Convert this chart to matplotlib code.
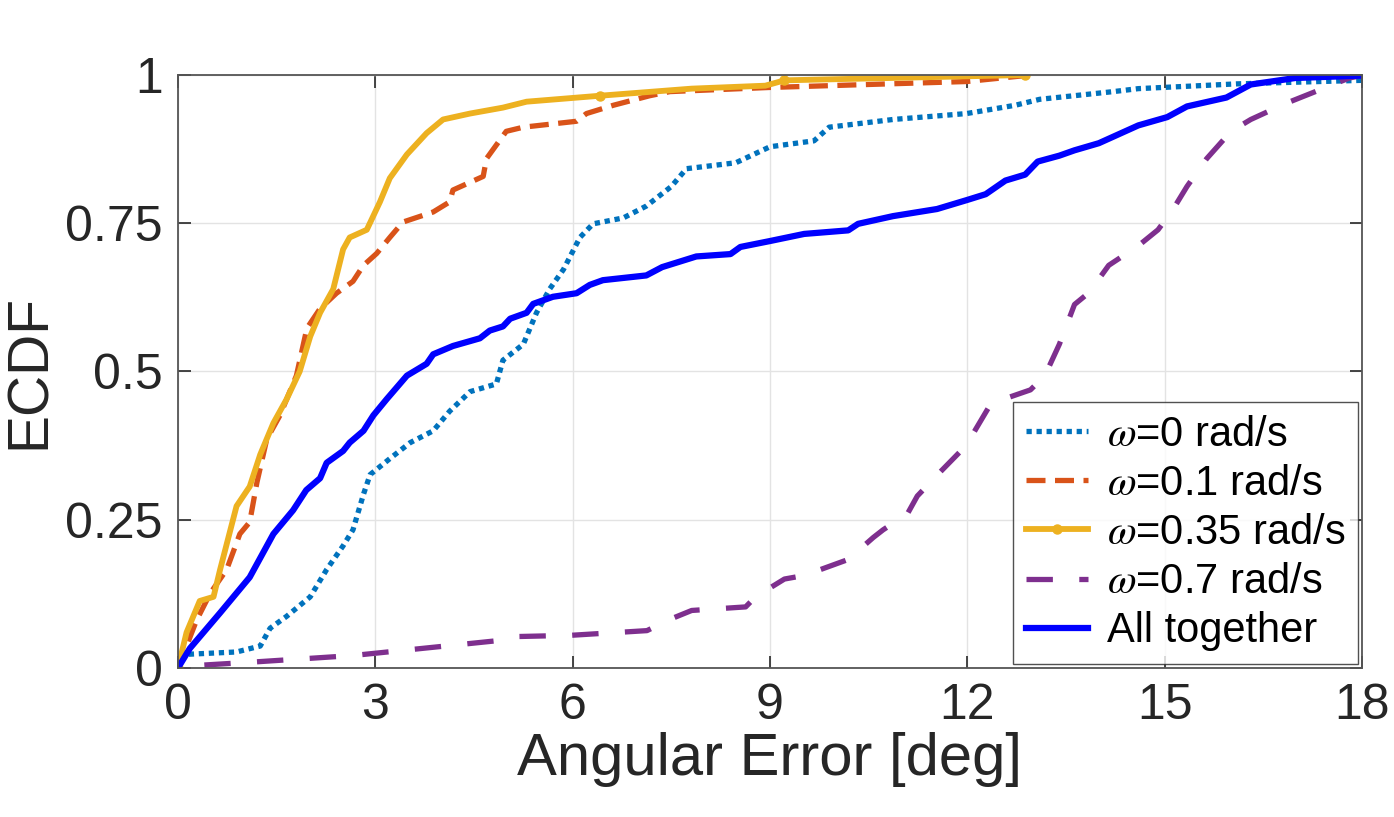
import matplotlib
matplotlib.use('Agg')
import matplotlib.pyplot as plt

plt.rcParams['font.family'] = ['Liberation Sans', 'DejaVu Sans']
plt.rcParams['mathtext.fontset'] = 'stix'

# ECDF curves (x in deg, y in [0, 1])
x_w0 = [0, 0.05, 0.13, 0.89, 1.25, 1.4, 1.65, 2.01, 2.26, 2.51, 2.66, 2.82, 2.92, 3.22, 3.53,
        3.88, 4.13, 4.44, 4.84, 4.94, 5.25, 5.45, 5.65, 5.86, 6.11, 6.31, 6.77, 7.12, 7.5, 7.73,
        8.48, 9.0, 9.67, 9.9, 10.87, 11.99, 12.73, 13.1, 14.22, 14.6, 16.09, 18.0]
y_w0 = [0, 0.02, 0.023, 0.027, 0.037, 0.067, 0.087, 0.12, 0.166, 0.206, 0.233, 0.293, 0.326,
        0.353, 0.38, 0.40, 0.433, 0.466, 0.479, 0.519, 0.546, 0.599, 0.639, 0.672, 0.726, 0.749,
        0.759, 0.779, 0.812, 0.842, 0.852, 0.879, 0.889, 0.912, 0.925, 0.935, 0.949, 0.959, 0.972,
        0.977, 0.985, 0.991]

x_w01 = [0, 0.28, 0.49, 0.74, 0.94, 1.09, 1.2, 1.35, 1.55, 1.8, 1.96, 2.16, 2.41, 2.66, 2.82,
         3.02, 3.22, 3.42, 3.88, 4.13, 4.18, 4.44, 4.64, 4.69, 4.99, 5.25, 6.06, 6.21, 6.62, 7.17,
         7.48, 9.0, 11.99, 12.88]
y_w01 = [0, 0.08, 0.126, 0.166, 0.226, 0.246, 0.313, 0.386, 0.426, 0.493, 0.573, 0.606, 0.632,
         0.652, 0.679, 0.699, 0.726, 0.752, 0.769, 0.786, 0.806, 0.819, 0.829, 0.859, 0.905, 0.912,
         0.922, 0.935, 0.949, 0.965, 0.972, 0.979, 0.989, 0.999]

x_w035 = [0, 0.13, 0.33, 0.54, 0.64, 0.89, 1.09, 1.25, 1.45, 1.65, 1.85, 2.01, 2.16, 2.36, 2.51,
          2.61, 2.87, 3.07, 3.22, 3.48, 3.78, 4.03, 4.44, 4.94, 5.3, 6.41, 7.81, 8.93, 9.22, 12.88]
y_w035 = [0, 0.06, 0.113, 0.12, 0.166, 0.273, 0.306, 0.36, 0.413, 0.453, 0.50, 0.559, 0.599,
          0.639, 0.706, 0.726, 0.739, 0.786, 0.826, 0.866, 0.902, 0.925, 0.935, 0.945, 0.955,
          0.965, 0.977, 0.982, 0.991, 1.0]

x_w07 = [0.4, 1.14, 2.66, 4.94, 5.15, 5.96, 7.13, 7.5, 7.81, 8.63, 8.78, 9.22, 9.52, 10.19,
         10.57, 10.72, 11.09, 11.24, 11.61, 11.99, 12.13, 12.36, 12.96, 13.18, 13.4, 13.63, 13.85,
         14.15, 14.6, 14.9, 15.12, 15.34, 15.64, 16.01, 16.31, 16.84, 17.36, 17.81, 18.0]
y_w07 = [0.005, 0.01, 0.021, 0.047, 0.053, 0.055, 0.063, 0.083, 0.097, 0.103, 0.12, 0.15, 0.156,
         0.183, 0.22, 0.233, 0.26, 0.29, 0.333, 0.376, 0.403, 0.446, 0.469, 0.493, 0.546, 0.613,
         0.633, 0.679, 0.712, 0.739, 0.772, 0.812, 0.859, 0.905, 0.925, 0.952, 0.975, 0.995, 0.999]

x_all = [0, 0.18, 0.64, 1.09, 1.45, 1.75, 1.95, 2.16, 2.26, 2.51, 2.61, 2.82, 2.97, 3.17, 3.48,
         3.78, 3.88, 4.18, 4.59, 4.74, 4.94, 5.05, 5.3, 5.4, 5.7, 6.06, 6.26, 6.46, 7.12, 7.36,
         7.88, 8.4, 8.55, 9.0, 9.52, 10.19, 10.34, 10.87, 11.54, 11.99, 12.28, 12.58, 12.88, 13.07,
         13.4, 13.63, 14.0, 14.6, 15.04, 15.34, 15.94, 16.31, 16.99, 18.0]
y_all = [0, 0.033, 0.093, 0.153, 0.226, 0.266, 0.30, 0.32, 0.346, 0.366, 0.38, 0.40, 0.426,
         0.453, 0.493, 0.513, 0.529, 0.543, 0.556, 0.569, 0.576, 0.589, 0.599, 0.614, 0.626,
         0.632, 0.646, 0.654, 0.662, 0.676, 0.694, 0.698, 0.710, 0.720, 0.732, 0.738, 0.749,
         0.762, 0.774, 0.789, 0.799, 0.822, 0.832, 0.854, 0.864, 0.873, 0.885, 0.915, 0.929,
         0.947, 0.962, 0.984, 0.995, 0.999]

labels = [r'$\omega$=0 rad/s', r'$\omega$=0.1 rad/s', r'$\omega$=0.35 rad/s',
          r'$\omega$=0.7 rad/s', 'All together']

fig = plt.figure(figsize=(13.94, 8.17), dpi=100)
ax = fig.add_axes([0.1277, 0.1824, 0.8493, 0.7258])

ax.plot(x_w0, y_w0, color='#0072BD', lw=3.8, dashes=(1.0, 0.9), dash_capstyle='butt', label=labels[0])
ax.plot(x_w01, y_w01, color='#D95319', lw=3.8, dashes=(3.6, 1.8), dash_capstyle='butt', label=labels[1])
# only a few of the yellow markers stand out in the original
ax.plot(x_w035, y_w035, color='#EDB120', lw=4.2, marker='.', markersize=13,
        markevery=[0, 25, 28, 29], label=labels[2])
ax.plot(x_w07, y_w07, color='#7E2F8E', lw=3.8, dashes=(5.0, 5.0), dash_capstyle='butt', label=labels[3])
ax.plot(x_all, y_all, color='#0000FF', lw=4.5, label=labels[4])

ax.set_xlim(0, 18)
ax.set_ylim(0, 1)
ax.set_xticks([0, 3, 6, 9, 12, 15, 18])
ax.set_yticks([0, 0.25, 0.5, 0.75, 1])
ax.set_yticklabels(['0', '0.25', '0.5', '0.75', '1'])
ax.grid(True, color='#e3e3e3', lw=1.0)
ax.set_axisbelow(True)
ax.tick_params(direction='in', length=9, width=1.2, colors='#262626', labelsize=36,
               top=True, right=True, pad=11)
for s in ax.spines.values():
    s.set_color('#555555')
    s.set_linewidth(1.3)

ax.set_xlabel('Angular Error [deg]', fontsize=43, color='#262626', labelpad=2)
ax.set_ylabel('ECDF', fontsize=41, color='#262626', labelpad=6)

leg = ax.legend(loc='lower right', fontsize=30, frameon=True, fancybox=False,
                edgecolor='#262626', handlelength=1.5, handletextpad=0.45,
                borderaxespad=0.1, labelspacing=0.22, borderpad=0.3)
leg.get_frame().set_linewidth(1.0)
for t in leg.get_texts():
    t.set_color('black')

fig.savefig('out.png', dpi=100)
